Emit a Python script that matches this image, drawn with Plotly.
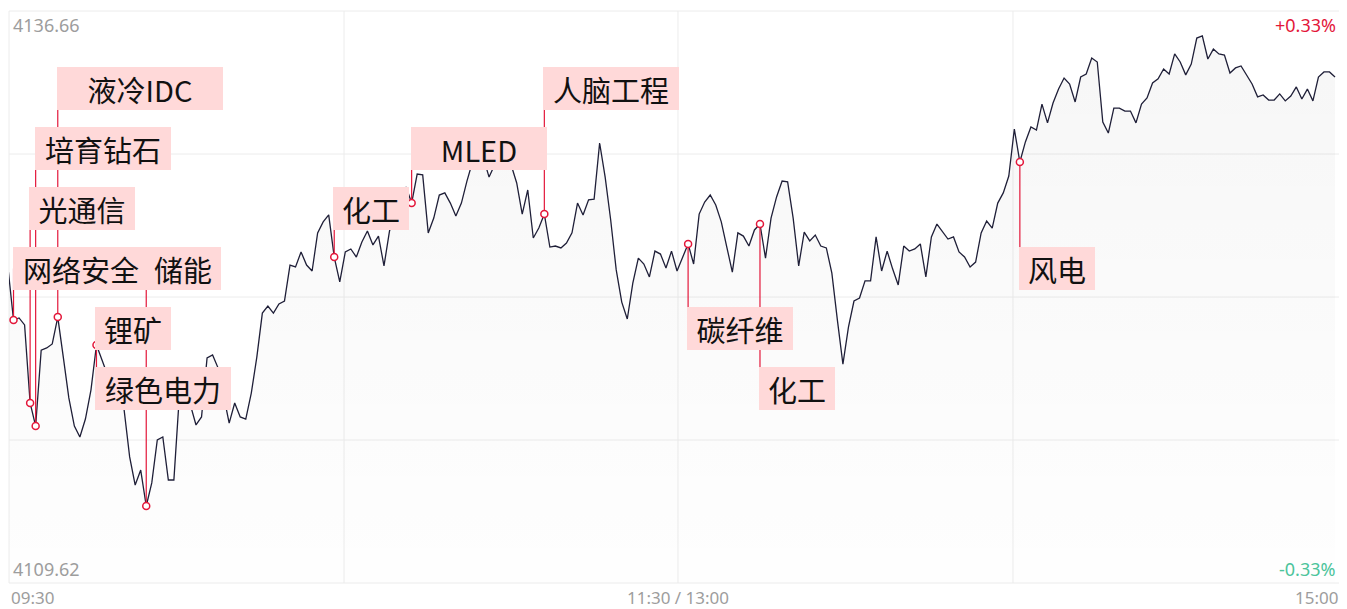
import plotly.graph_objects as go

# ---------------- data ----------------
prices = [
    4124.51, 4122.05, 4122.15, 4121.82, 4118.13, 4117.04, 4120.63, 4120.73, 4120.92, 4122.19,
    4120.30, 4118.37, 4117.04, 4116.52, 4117.37, 4118.74, 4120.87, 4120.16, 4119.45, 4118.74,
    4118.27, 4117.80, 4115.58, 4114.25, 4114.96, 4113.26, 4114.35, 4116.38, 4116.52, 4114.49,
    4114.49, 4118.51, 4119.22, 4118.03, 4117.09, 4117.47, 4120.26, 4120.40, 4119.78, 4118.51,
    4117.18, 4118.13, 4117.47, 4117.37, 4118.60, 4120.30, 4122.38, 4122.71, 4122.38, 4122.81,
    4122.95, 4124.65, 4124.56, 4125.27, 4124.65, 4124.37, 4126.17, 4126.69, 4127.02, 4125.03,
    4123.85, 4125.27, 4125.41, 4125.03, 4125.74, 4126.26, 4125.60, 4126.02, 4124.61, 4126.26,
    4127.02, 4127.96, 4128.34, 4127.58, 4128.95, 4128.91, 4126.17, 4126.87, 4127.96, 4128.06,
    4127.58, 4126.97, 4127.58, 4128.62, 4129.52, 4130.09, 4129.71, 4128.81, 4129.38, 4130.09,
    4129.99, 4129.38, 4128.53, 4127.06, 4128.20, 4125.93, 4126.40, 4127.06, 4125.50, 4125.55,
    4125.46, 4125.69, 4126.17, 4127.58, 4127.02, 4127.73, 4127.77, 4130.42, 4128.81, 4126.78,
    4124.42, 4122.90, 4122.10, 4123.80, 4124.98, 4124.70, 4124.09, 4125.31, 4125.17, 4124.51,
    4125.31, 4124.37, 4125.03, 4125.65, 4124.70, 4127.06, 4127.63, 4127.96, 4127.49, 4126.69,
    4125.50, 4124.32, 4126.17, 4126.02, 4125.55, 4126.31, 4126.59, 4124.98, 4126.87, 4127.87,
    4128.62, 4128.58, 4126.87, 4124.61, 4126.21, 4125.79, 4126.07, 4125.55, 4125.46, 4124.27,
    4122.05, 4119.97, 4121.72, 4122.95, 4123.09, 4123.90, 4123.90, 4125.98, 4124.37, 4125.31,
    4124.46, 4123.71, 4125.55, 4125.31, 4125.41, 4125.65, 4124.09, 4125.98, 4126.59, 4126.26,
    4125.88, 4125.98, 4125.27, 4125.03, 4124.56, 4124.79, 4126.17, 4126.73, 4126.40, 4127.58,
    4128.06, 4128.86, 4131.08, 4129.52, 4130.47, 4131.18, 4131.03, 4132.26, 4131.37, 4132.31,
    4132.97, 4133.49, 4133.21, 4132.36, 4133.54, 4133.68, 4134.44, 4134.25, 4131.41, 4130.89,
    4132.07, 4132.07, 4131.93, 4131.93, 4131.37, 4132.26, 4132.55, 4133.26, 4133.45, 4133.92,
    4133.68, 4134.63, 4134.25, 4133.64, 4134.15, 4135.38, 4135.48, 4134.39, 4134.86, 4134.63,
    4134.58, 4133.73, 4133.97, 4134.06, 4133.64, 4133.21, 4132.60, 4132.69, 4132.45, 4132.45,
    4132.74, 4132.41, 4132.64, 4133.07, 4132.50, 4132.97, 4132.41, 4133.54, 4133.78, 4133.78,
    4133.54,
]
minutes = list(range(len(prices)))

y_min, y_max = 4109.62, 4136.66
y_labels = ["4136.66", "4109.62"]
pct_labels = ["+0.33%", "-0.33%"]
time_labels = ["09:30", "11:30 / 13:00", "15:00"]

event_names = ["网络安全", "光通信", "培育钻石", "液冷IDC", "锂矿", "绿色电力", "储能",
               "化工", "MLED", "人脑工程", "碳纤维", "化工", "风电"]
event_minutes = [1, 4, 5, 9, 16, 16, 25, 59, 73, 97, 123, 136, 183]

# ---------------- layout helpers ----------------
# page body has an 8px default margin; figure is sized so the plot area
# lands at page pixels x 9..1340, y 11..583
OFF = 8
W, H = 1339, 601
ML, MR, MT, MB = 1, 7, 3, 26
PLOT_BOTTOM_PAGE = OFF + H - MB  # 583
PH = H - MT - MB  # plot height in px
event_rows = [3, 2, 1, 0, 4, 5, 3, 2, 1, 0, 4, 5, 3]
ROW_TOP0, ROW_STEP, BOX_H = 67, 60, 43  # page pixels

RED = "#e3173a"
LINE = "#1f1f38"
PINK = "#ffd9d9"
GRAY = "#9d9d9d"
GRID = "#ececec"
FONT = "Noto Sans CJK SC"


def row_center_frac(r):
    cy = ROW_TOP0 + ROW_STEP * r + BOX_H / 2
    return (PLOT_BOTTOM_PAGE - cy) / PH


def frac_to_val(f):
    return y_min + f * (y_max - y_min)


fig = go.Figure()

# baseline for fill
fig.add_trace(go.Scatter(x=minutes, y=[y_min] * len(minutes), mode="lines",
                         line=dict(width=0), hoverinfo="skip", showlegend=False))
fig.add_trace(go.Scatter(
    x=minutes, y=prices, mode="lines", fill="tonexty",
    fillgradient=dict(type="vertical",
                      colorscale=[[0, "rgba(0,0,0,0.004)"], [1, "rgba(0,0,0,0.035)"]],
                      start=y_min, stop=y_max),
    line=dict(color=LINE, width=1.3), showlegend=False, hoverinfo="skip"))

# connectors
cx, cy = [], []
for m, r in zip(event_minutes, event_rows):
    cx += [m, m, None]
    cy += [prices[m], frac_to_val(row_center_frac(r)), None]
fig.add_trace(go.Scatter(x=cx, y=cy, mode="lines", line=dict(color=RED, width=1.2),
                         showlegend=False, hoverinfo="skip", cliponaxis=False))

# markers
um = sorted(set(event_minutes))
fig.add_trace(go.Scatter(x=um, y=[prices[m] for m in um], mode="markers",
                         marker=dict(symbol="circle", size=7, color="white",
                                     line=dict(color=RED, width=1.5)),
                         showlegend=False, hoverinfo="skip"))

shapes = []
# grid
for f in (0.25, 0.5, 0.75):
    shapes.append(dict(type="line", xref="paper", yref="paper", x0=0, x1=1, y0=f, y1=f,
                       line=dict(color=GRID, width=1), layer="below"))
for f in (0.2517, 0.5026, 0.7543):
    shapes.append(dict(type="line", xref="paper", yref="paper", x0=f, x1=f, y0=0, y1=1,
                       line=dict(color=GRID, width=1), layer="below"))
shapes.append(dict(type="rect", xref="paper", yref="paper", x0=0, x1=1, y0=0, y1=1,
                   line=dict(color=GRID, width=1), layer="below"))

annotations = []
for name, m, r in zip(event_names, event_minutes, event_rows):
    annotations.append(dict(
        x=m, xref="x", xanchor="left", xshift=-1,
        y=row_center_frac(r), yref="paper", yanchor="middle",
        text=name, showarrow=False, bgcolor=PINK, borderpad=0, borderwidth=0,
        width=len(name) * 30 + 16, height=BOX_H, align="center",
        font=dict(family=FONT, size=29, color="#111111")))

small = dict(family="Noto Sans, " + FONT, size=18)
bottom = dict(family="Noto Sans, " + FONT, size=17)
annotations += [
    dict(x=0, y=1, xref="paper", yref="paper", xanchor="left", yanchor="top", xshift=2,
         text=y_labels[0], showarrow=False, font=dict(color=GRAY, **small)),
    dict(x=0, y=0, xref="paper", yref="paper", xanchor="left", yanchor="bottom", xshift=2,
         text=y_labels[1], showarrow=False, font=dict(color=GRAY, **small)),
    dict(x=1, y=1, xref="paper", yref="paper", xanchor="right", yanchor="top", xshift=-2,
         text=pct_labels[0], showarrow=False, font=dict(color=RED, **small)),
    dict(x=1, y=0, xref="paper", yref="paper", xanchor="right", yanchor="bottom", xshift=-2,
         text=pct_labels[1], showarrow=False, font=dict(color="#4cc49b", **small)),
    dict(x=0, y=0, xref="paper", yref="paper", xanchor="left", yanchor="middle", yshift=-14,
         text=time_labels[0], showarrow=False, font=dict(color=GRAY, **bottom)),
    dict(x=0.5026, y=0, xref="paper", yref="paper", xanchor="center", yanchor="middle", yshift=-14,
         text=time_labels[1], showarrow=False, font=dict(color=GRAY, **bottom)),
    dict(x=1, y=0, xref="paper", yref="paper", xanchor="right", yanchor="middle", yshift=-14,
         text=time_labels[2], showarrow=False, font=dict(color=GRAY, **bottom)),
]

fig.update_layout(
    width=W, height=H, autosize=False,
    margin=dict(l=ML, r=MR, t=MT, b=MB, pad=0),
    paper_bgcolor="white", plot_bgcolor="white",
    xaxis=dict(range=[0.18, 240.9], visible=False, fixedrange=True),
    yaxis=dict(range=[y_min, y_max], visible=False, fixedrange=True),
    shapes=shapes, annotations=annotations, showlegend=False,
)

fig.write_html("out.html", config={"displayModeBar": False})
